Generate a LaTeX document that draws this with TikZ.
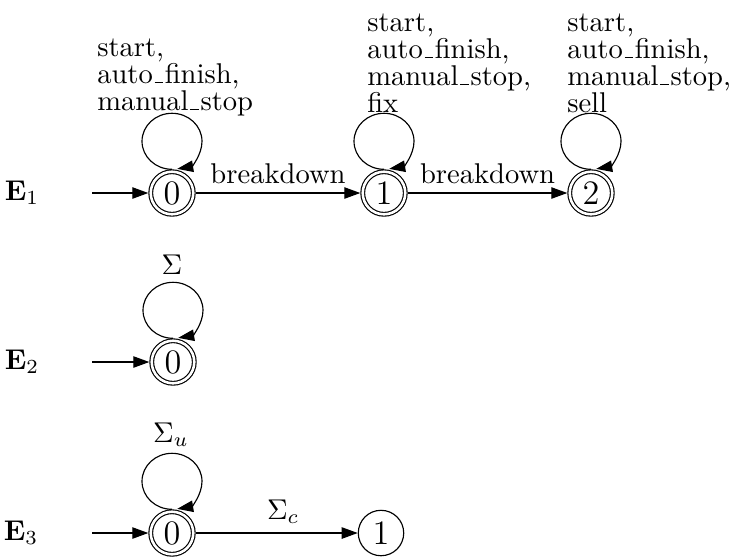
\documentclass[tikz,border=0pt]{standalone}
\usepackage{amsmath}
\usepackage{tikz}
\usetikzlibrary{arrows.meta}

% short baseline rule, as in the old OT1 underscore
\newcommand{\usc}{\leavevmode\kern.06em\vbox{\hrule width.3em}\kern.06em}

\begin{document}
\begin{tikzpicture}[x=0.35pt, y=0.35pt,
		every node/.style={inner sep=0pt},
		acc/.style={circle, draw, double, double distance=0.9pt, minimum size=14.9pt, outer sep=0.85pt, font=\large},
		st/.style={circle, draw, minimum size=15.9pt, font=\large},
		edge/.style={-{Triangle[length=5.6pt,width=4pt]}},
		evt/.style={above, inner sep=3pt},
		events/.style={anchor=north west, align=left, font=\fontsize{10pt}{9.45pt}\selectfont},
		selfloop/.style={to path={(\tikztostart.north) arc[start angle=-90, delta angle=-350, x radius=10.5pt, y radius=9.8pt]}}]
	\useasboundingbox (0,0) rectangle (734,557);

	% E1
	\node (ea) at (22,364) {$\mathbf{E}_1$};
	\coordinate (ia) at (92,364);
	\node[acc] (a0) at (172,364) {0};
	\node[acc] (a1) at (384,364) {1};
	\node[acc] (a2) at (591,364) {2};
	\draw[edge] (ia) -- (a0);
	\draw[edge] (a0) -- node[evt] {breakdown} (a1);
	\draw[edge] (a1) -- node[evt] {breakdown} (a2);
	\draw[edge] (a0) to[selfloop] (a0);
	\draw[edge] (a1) to[selfloop] (a1);
	\draw[edge] (a2) to[selfloop] (a2);
	\node[events] (la0) at (96.7,519) {start,\\auto\usc finish,\\manual\usc stop};
	\node[events] (la1) at (366.7,544) {start,\\auto\usc finish,\\manual\usc stop,\\fix};
	\node[events] (la2) at (566.7,544) {start,\\auto\usc finish,\\manual\usc stop,\\sell};

	% E2
	\node (eb) at (22,195) {$\mathbf{E}_2$};
	\coordinate (ib) at (92,195);
	\node[acc] (b0) at (173,195) {0};
	\draw[edge] (ib) -- (b0);
	\draw[edge] (b0) to[selfloop] (b0);
	\node[anchor=south] (lb0) at (172,282) {$\Sigma$};

	% E3
	\node (ec) at (21,24) {$\mathbf{E}_3$};
	\coordinate (ic) at (92,24);
	\node[acc] (c0) at (172,24) {0};
	\node[st] (c1) at (381,24) {1};
	\draw[edge] (ic) -- (c0);
	\draw[edge] (c0) -- node[evt, pos=0.54] {$\Sigma_c$} (c1);
	\draw[edge] (c0) to[selfloop] (c0);
	\node[anchor=base] (lc0) at (171,115) {$\Sigma_u$};
\end{tikzpicture}
\end{document}
